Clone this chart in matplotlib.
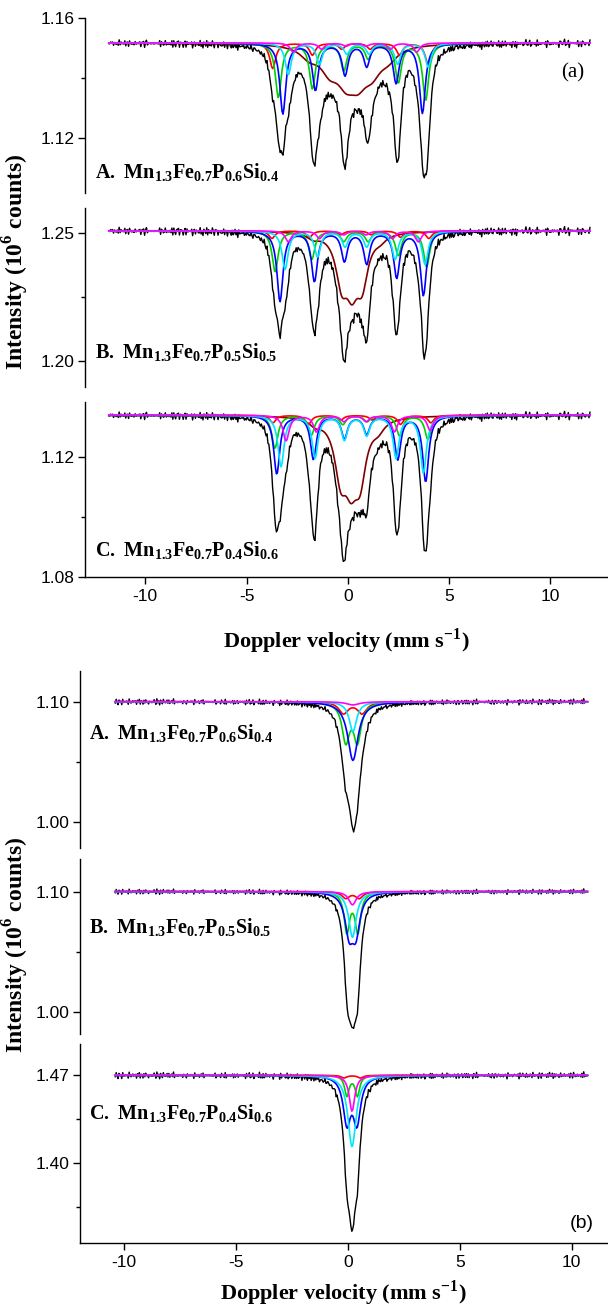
import numpy as np
import matplotlib
matplotlib.use('Agg')
import matplotlib.pyplot as plt

plt.rcParams['font.family'] = 'Liberation Sans'
plt.rcParams['axes.unicode_minus'] = False
plt.rcParams['mathtext.fontset'] = 'custom'
plt.rcParams['mathtext.rm'] = 'Liberation Serif'
plt.rcParams['mathtext.bf'] = 'Liberation Serif:bold'

# ---------------- data ----------------
labels = [r'$\mathbf{A.\;Mn_{1.3}Fe_{0.7}P_{0.6}Si_{0.4}}$',
          r'$\mathbf{B.\;Mn_{1.3}Fe_{0.7}P_{0.5}Si_{0.5}}$',
          r'$\mathbf{C.\;Mn_{1.3}Fe_{0.7}P_{0.4}Si_{0.6}}$']

# measured channel range (mm/s)
vel_a = (-11.8, 11.95)
vel_b = (-10.4, 10.7)

# baseline wiggle of the measured spectra (relative units)
noise_1 = [0.3, -0.8, 0.5, 0.9, -0.2, -0.6, 0.1, 0.7, -0.9, 0.4, -0.3, 0.8, -0.5,
           0.2, 0.6, -0.7, 0.0, 0.9, -0.4, -0.1, 0.5, -0.8, 0.3, 0.7, -0.6, 0.2,
           -0.9, 0.4, 0.1, -0.3, 0.8, -0.5, 0.6, -0.2, -0.7, 0.3, 0.9]
noise_2 = [-0.4, 0.6, 0.1, -0.7, 0.8, -0.2, 0.3, -0.9, 0.5, 0.0, -0.5, 0.7, -0.1,
           0.4, -0.8, 0.9, -0.3, 0.2, -0.6, 0.6, 0.1, -0.4, 0.8, -0.7, 0.3, -0.2,
           0.5, -0.9, 0.7, 0.0, -0.5, 0.4, -0.1, 0.9, -0.6, 0.2, -0.3, 0.6, -0.8,
           0.1, 0.5]

# (a) sextets: line positions (mm/s) and depths (10^6 counts)
base_a = [1.1517, 1.2509, 1.1339]
noise_amp_a = [0.0008, 0.0010, 0.0008]

a_blue_pos = [[-3.21, -1.60, -0.14, 0.93, 2.38, 3.68],
              [-3.35, -1.65, -0.17, 0.93, 2.41, 3.73],
              [-3.51, -1.70, -0.17, 0.93, 2.46, 3.84]]
a_blue_dep = [[0.0235, 0.0155, 0.0105, 0.0075, 0.0130, 0.0232],
              [0.0275, 0.0195, 0.0115, 0.0125, 0.0180, 0.0250],
              [0.0195, 0.0145, 0.0075, 0.0060, 0.0145, 0.0220]]
a_green_pos = [[-3.43, -1.75, -0.20, 1.00, 2.49, 3.84],
               [-3.59, -1.78, -0.20, 1.00, 2.49, 3.89],
               [-3.60, -1.80, -0.25, 0.95, 2.55, 3.95]]
a_green_dep = [[0.0180, 0.0150, 0.0090, 0.0050, 0.0130, 0.0190],
               [0.0160, 0.0110, 0.0040, 0.0040, 0.0095, 0.0140],
               [0.0110, 0.0065, 0.0030, 0.0020, 0.0068, 0.0080]]
a_cyan_pos = [[-2.94, -1.40, -0.05, 1.05, 2.45, 3.97],
              [-3.10, -1.50, -0.14, 0.93, 2.33, 3.81],
              [-3.30, -1.62, -0.17, 0.93, 2.38, 3.73]]
a_cyan_dep = [[0.0105, 0.0070, 0.0035, 0.0035, 0.0070, 0.0080],
              [0.0150, 0.0100, 0.0060, 0.0060, 0.0110, 0.0130],
              [0.0170, 0.0140, 0.0080, 0.0065, 0.0140, 0.0190]]
a_red_pos = [[-3.71, -1.75, -0.30, 1.10, 2.55, 3.96],
             [-3.75, -1.90, -0.35, 1.15, 2.60, 4.00],
             [-3.70, -1.95, -0.35, 1.20, 2.60, 4.10]]
a_red_dep = [[0.0085, 0.0040, 0.0020, 0.0020, 0.0040, 0.0070],
             [0.0030, 0.0025, 0.0015, 0.0015, 0.0025, 0.0030],
             [0.0025, 0.0030, 0.0015, 0.0015, 0.0030, 0.0025]]
a_magenta_pos = [[-2.70, -1.30, -0.10, 0.90, 2.10, 3.40],
                 [-2.94, -1.40, -0.20, 0.90, 2.20, 3.48],
                 [-3.05, -1.55, -0.20, 0.90, 2.30, 4.06]]
a_magenta_dep = [[0.0030, 0.0020, 0.0010, 0.0010, 0.0020, 0.0030],
                 [0.0043, 0.0030, 0.0015, 0.0015, 0.0030, 0.0043],
                 [0.0085, 0.0055, 0.0020, 0.0020, 0.0055, 0.0050]]
# broad component (wine)
a_wine_pos = [[-1.9, -0.9, -0.1, 0.5, 1.2, 2.0],
              [-1.7, -0.3, 0.2, 0.7, 1.6],
              [-1.6, -0.35, 0.15, 0.6, 1.5]]
a_wine_dep = [[0.0035, 0.0070, 0.0090, 0.0090, 0.0070, 0.0035],
              [0.0020, 0.0180, 0.0170, 0.0180, 0.0020],
              [0.0020, 0.0180, 0.0160, 0.0180, 0.0030]]
a_hw = 0.18
a_wine_hw = [0.55, 0.35, 0.36]

# (b) doublets / singlets
base_b = [1.100, 1.100, 1.470]
noise_amp_b = [0.0015, 0.0013, 0.0016]

b_blue_pos = [[0.22], [0.05, 0.35], [-0.05, 0.40]]
b_blue_dep = [[0.049], [0.0316, 0.0316], [0.0362, 0.0362]]
b_blue_hw = [0.28, 0.22, 0.20]
b_green_pos = [[-0.10, 0.42], [-0.05, 0.44], [-0.05, 0.42]]
b_green_dep = [[0.032, 0.032], [0.0328, 0.0328], [0.0163, 0.0163]]
b_green_hw = [0.20, 0.15, 0.12]
b_cyan_pos = [[0.22], [0.20], [0.18]]
b_cyan_dep = [[0.025], [0.038], [0.057]]
b_cyan_hw = [0.20, 0.20, 0.22]
b_red_pos = [[-0.20, 0.63], [-0.10, 0.50], [-0.18, 0.56]]
b_red_dep = [[0.0096, 0.0096], [0.0054, 0.0054], [0.0021, 0.0021]]
b_red_hw = [0.25, 0.20, 0.15]
b_magenta_pos = [[0.22], [0.20], [0.18]]
b_magenta_dep = [[0.0027], [0.011], [0.0288]]
b_magenta_hw = [0.35, 0.20, 0.15]

# axis ranges / ticks
ylim_a = [(1.1017, 1.16), (1.1898, 1.2598), (1.08, 1.1383)]
yticks_a = [[1.12, 1.16], [1.20, 1.25], [1.08, 1.12]]
yminor_a = [[1.14], [1.225], [1.10]]
ylim_b = [(0.978, 1.1256), (0.982, 1.127), (1.336, 1.495)]
yticks_b = [[1.00, 1.10], [1.00, 1.10], [1.40, 1.47]]
yminor_b = [[1.05], [1.05], [1.365, 1.435]]
xticks = [-10, -5, 0, 5, 10]

# ---------------- drawing ----------------
W, H = 608, 1308


def lines(v, pos, dep, hw):
    out = np.zeros_like(v)
    for p, d in zip(pos, dep):
        out += d / (1 + ((v - p) / hw) ** 2)
    return out


def box(top, bottom, left):
    return [left / W, 1 - bottom / H, 1 - left / W, (bottom - top) / H]


def style(ax, last):
    for s in ['top', 'right']:
        ax.spines[s].set_visible(False)
    ax.spines['left'].set_linewidth(1.0)
    ax.tick_params(axis='y', direction='out', length=5, width=1, labelsize=12.5, pad=2)
    ax.tick_params(axis='y', which='minor', direction='out', length=3, width=1)
    if last:
        ax.spines['bottom'].set_linewidth(1.0)
        ax.set_xticks(xticks)
        ax.tick_params(axis='x', direction='out', length=5, width=1, labelsize=12.5)
    else:
        ax.spines['bottom'].set_visible(False)
        ax.set_xticks([])


fig = plt.figure(figsize=(W / 100, H / 100), dpi=100)
xlab = r'Doppler velocity (mm s$^{\mathbf{-1}}$)'
ylab = r'Intensity (10$^{\mathbf{6}}$ counts)'

# ---- figure (a)
tops_a = [18, 208, 402]
bots_a = [193, 387, 577]
v = np.linspace(vel_a[0], vel_a[1], 512)
nz = np.resize(noise_1, v.size) + np.resize(noise_2, v.size)
for i in range(3):
    ax = fig.add_axes(box(tops_a[i], bots_a[i], 84.5))
    b0 = base_a[i]
    blue = lines(v, a_blue_pos[i], a_blue_dep[i], a_hw)
    green = lines(v, a_green_pos[i], a_green_dep[i], a_hw)
    cyan = lines(v, a_cyan_pos[i], a_cyan_dep[i], a_hw)
    red = lines(v, a_red_pos[i], a_red_dep[i], a_hw)
    mag = lines(v, a_magenta_pos[i], a_magenta_dep[i], a_hw)
    wine = lines(v, a_wine_pos[i], a_wine_dep[i], a_wine_hw[i])
    total = blue + green + cyan + red + mag + wine
    ax.plot(v, b0 - total + noise_amp_a[i] * nz, color='black', lw=1.0)
    ax.plot(v, b0 - wine, color='#800000', lw=1.2)
    ax.plot(v, b0 - red, color='#FF0000', lw=1.2)
    ax.plot(v, b0 - green, color='#00D000', lw=1.2)
    ax.plot(v, b0 - blue, color='#0000FF', lw=1.2)
    ax.plot(v, b0 - cyan, color='#00E5FF', lw=1.2)
    ax.plot(v, b0 - mag, color='#FF00FF', lw=1.2)
    ax.set_xlim(-13.0, 12.84)
    ax.set_ylim(*ylim_a[i])
    ax.set_yticks(yticks_a[i])
    ax.set_yticks(yminor_a[i], minor=True)
    ax.yaxis.set_major_formatter(plt.FormatStrFormatter('%.2f'))
    style(ax, i == 2)
    ax.patch.set_alpha(0)
    if i == 0:
        ax.text(11.1, 1.1417, '(a)', family='Liberation Serif', fontsize=15,
                ha='center', va='center')
    if i == 2:
        ax.set_xlabel(xlab, family='Liberation Serif', fontweight='bold',
                      fontsize=16, labelpad=16)

label_y_a = [172, 352, 550]
for i in range(3):
    fig.text(95 / W, 1 - label_y_a[i] / H, labels[i], fontsize=14.5, va='center')
fig.text(16 / W, 1 - 262 / H, ylab, family='Liberation Serif', fontweight='bold',
         fontsize=17, rotation=90, ha='center', va='center')

# ---- figure (b)
tops_b = [671, 859, 1044]
bots_b = [848, 1034, 1243]
v = np.linspace(vel_b[0], vel_b[1], 512)
nz = np.resize(noise_2, v.size) - np.resize(noise_1, v.size)
for i in range(3):
    ax = fig.add_axes(box(tops_b[i], bots_b[i], 79.5))
    b0 = base_b[i]
    blue = lines(v, b_blue_pos[i], b_blue_dep[i], b_blue_hw[i])
    green = lines(v, b_green_pos[i], b_green_dep[i], b_green_hw[i])
    cyan = lines(v, b_cyan_pos[i], b_cyan_dep[i], b_cyan_hw[i])
    red = lines(v, b_red_pos[i], b_red_dep[i], b_red_hw[i])
    mag = lines(v, b_magenta_pos[i], b_magenta_dep[i], b_magenta_hw[i])
    total = blue + green + cyan + red + mag
    ax.plot(v, b0 - total + noise_amp_b[i] * nz, color='black', lw=1.0)
    ax.plot(v, b0 - red, color='#FF0000', lw=1.2)
    ax.plot(v, b0 - green, color='#00D000', lw=1.2)
    ax.plot(v, b0 - blue, color='#0000FF', lw=1.2)
    ax.plot(v, b0 - cyan, color='#00E5FF', lw=1.2)
    ax.plot(v, b0 - mag, color='#FF00FF', lw=1.2)
    ax.set_xlim(-12.0, 11.62)
    ax.set_ylim(*ylim_b[i])
    ax.set_yticks(yticks_b[i])
    ax.set_yticks(yminor_b[i], minor=True)
    ax.yaxis.set_major_formatter(plt.FormatStrFormatter('%.2f'))
    style(ax, i == 2)
    ax.patch.set_alpha(0)
    if i == 2:
        ax.set_xlabel(xlab, family='Liberation Serif', fontweight='bold',
                      fontsize=16, labelpad=6)

label_y_b = [733, 927, 1113]
for i in range(3):
    fig.text(89 / W, 1 - label_y_b[i] / H, labels[i], fontsize=14.5, va='center')
fig.text(582 / W, 1 - 1223 / H, '(b)', fontsize=14, ha='center', va='center')
fig.text(16 / W, 1 - 945 / H, ylab, family='Liberation Serif', fontweight='bold',
         fontsize=17, rotation=90, ha='center', va='center')

fig.savefig('out.png', dpi=100)
